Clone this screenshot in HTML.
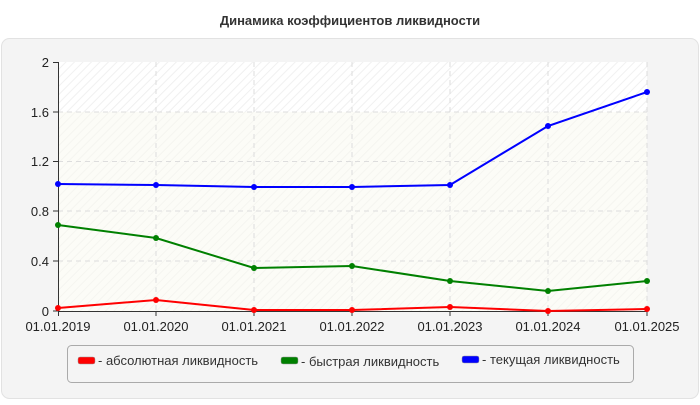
<!DOCTYPE html>
<html><head><meta charset="utf-8"><style>
body{margin:0;width:700px;height:400px;background:#fff;font-family:"Liberation Sans",sans-serif;}
</style></head><body>
<svg width="700" height="400" xmlns="http://www.w3.org/2000/svg" font-family="Liberation Sans, sans-serif">
<defs>
<pattern id="h" width="6" height="6" patternUnits="userSpaceOnUse" patternTransform="rotate(45)">
<rect width="6" height="6" fill="#fff"/><line x1="0" y1="0" x2="0" y2="6" stroke="#f0f0f0" stroke-width="2"/>
</pattern>
</defs>
<text x="350" y="25" text-anchor="middle" font-size="13" font-weight="bold" fill="#333">Динамика коэффициентов ликвидности</text>
<rect x="1.5" y="38.5" width="697" height="360" rx="8" fill="#f4f4f4" stroke="#e2e2e2"/>
<rect x="58" y="62" width="589" height="249" fill="url(#h)"/>
<rect x="58" y="112" width="589" height="199" fill="#fafaf0" opacity="0.5"/>
<g stroke="#ddd" stroke-dasharray="5,4">
<line x1="58" y1="112" x2="647" y2="112"/><line x1="58" y1="161.5" x2="647" y2="161.5"/><line x1="58" y1="211" x2="647" y2="211"/><line x1="58" y1="261" x2="647" y2="261"/>
<line x1="156" y1="62" x2="156" y2="311"/><line x1="254" y1="62" x2="254" y2="311"/><line x1="352" y1="62" x2="352" y2="311"/><line x1="450" y1="62" x2="450" y2="311"/><line x1="548" y1="62" x2="548" y2="311"/><line x1="647" y1="62" x2="647" y2="311"/>
</g>
<g stroke="#333">
<line x1="58.5" y1="62" x2="58.5" y2="312"/><line x1="58" y1="311.5" x2="647" y2="311.5"/>
<line x1="53" y1="62.5" x2="58" y2="62.5"/><line x1="53" y1="112" x2="58" y2="112"/><line x1="53" y1="161.5" x2="58" y2="161.5"/><line x1="53" y1="211" x2="58" y2="211"/><line x1="53" y1="261" x2="58" y2="261"/><line x1="53" y1="311" x2="58" y2="311"/>
<line x1="58.5" y1="311" x2="58.5" y2="316"/><line x1="156" y1="311" x2="156" y2="316"/><line x1="254" y1="311" x2="254" y2="316"/><line x1="352" y1="311" x2="352" y2="316"/><line x1="450" y1="311" x2="450" y2="316"/><line x1="548" y1="311" x2="548" y2="316"/><line x1="647" y1="311" x2="647" y2="316"/>
</g>
<g font-size="13" fill="#222" text-anchor="end">
<text x="49" y="67">2</text><text x="49" y="117">1.6</text><text x="49" y="166">1.2</text><text x="49" y="216">0.8</text><text x="49" y="266">0.4</text><text x="49" y="316">0</text>
</g>
<g font-size="13" fill="#222" text-anchor="middle">
<text x="58" y="331">01.01.2019</text><text x="156" y="331">01.01.2020</text><text x="254" y="331">01.01.2021</text><text x="352" y="331">01.01.2022</text><text x="450" y="331">01.01.2023</text><text x="548" y="331">01.01.2024</text><text x="647" y="331">01.01.2025</text>
</g>
<g fill="none" stroke-width="2">
<polyline stroke="#0000ff" points="58,184 156,185 254,187 352,187 450,185 548,126 647,92"/>
<polyline stroke="#008000" points="58,225 156,238 254,268 352,266 450,281 548,291 647,281"/>
<polyline stroke="#ff0000" points="58,308 156,300 254,310 352,310 450,307 548,311 647,309"/>
</g>
<g fill="#0000ff"><circle cx="58" cy="184" r="3"/><circle cx="156" cy="185" r="3"/><circle cx="254" cy="187" r="3"/><circle cx="352" cy="187" r="3"/><circle cx="450" cy="185" r="3"/><circle cx="548" cy="126" r="3"/><circle cx="647" cy="92" r="3"/></g>
<g fill="#008000"><circle cx="58" cy="225" r="3"/><circle cx="156" cy="238" r="3"/><circle cx="254" cy="268" r="3"/><circle cx="352" cy="266" r="3"/><circle cx="450" cy="281" r="3"/><circle cx="548" cy="291" r="3"/><circle cx="647" cy="281" r="3"/></g>
<g fill="#ff0000"><circle cx="58" cy="308" r="3"/><circle cx="156" cy="300" r="3"/><circle cx="254" cy="310" r="3"/><circle cx="352" cy="310" r="3"/><circle cx="450" cy="307" r="3"/><circle cx="548" cy="311" r="3"/><circle cx="647" cy="309" r="3"/></g>
<rect x="67.5" y="345.5" width="566" height="37" rx="4" fill="#f4f4f4" stroke="#aaa"/>
<g font-size="13" fill="#333">
<rect x="78" y="357" width="17" height="7" rx="2" fill="#ff0000" stroke="#999" stroke-width="0.5"/><text x="98" y="365">- абсолютная ликвидность</text>
<rect x="281" y="357" width="17" height="7" rx="2" fill="#008000" stroke="#999" stroke-width="0.5"/><text x="301" y="366">- быстрая ликвидность</text>
<rect x="462" y="356" width="17" height="7" rx="2" fill="#0000ff" stroke="#999" stroke-width="0.5"/><text x="482" y="364">- текущая ликвидность</text>
</g>
</svg>
</body></html>
